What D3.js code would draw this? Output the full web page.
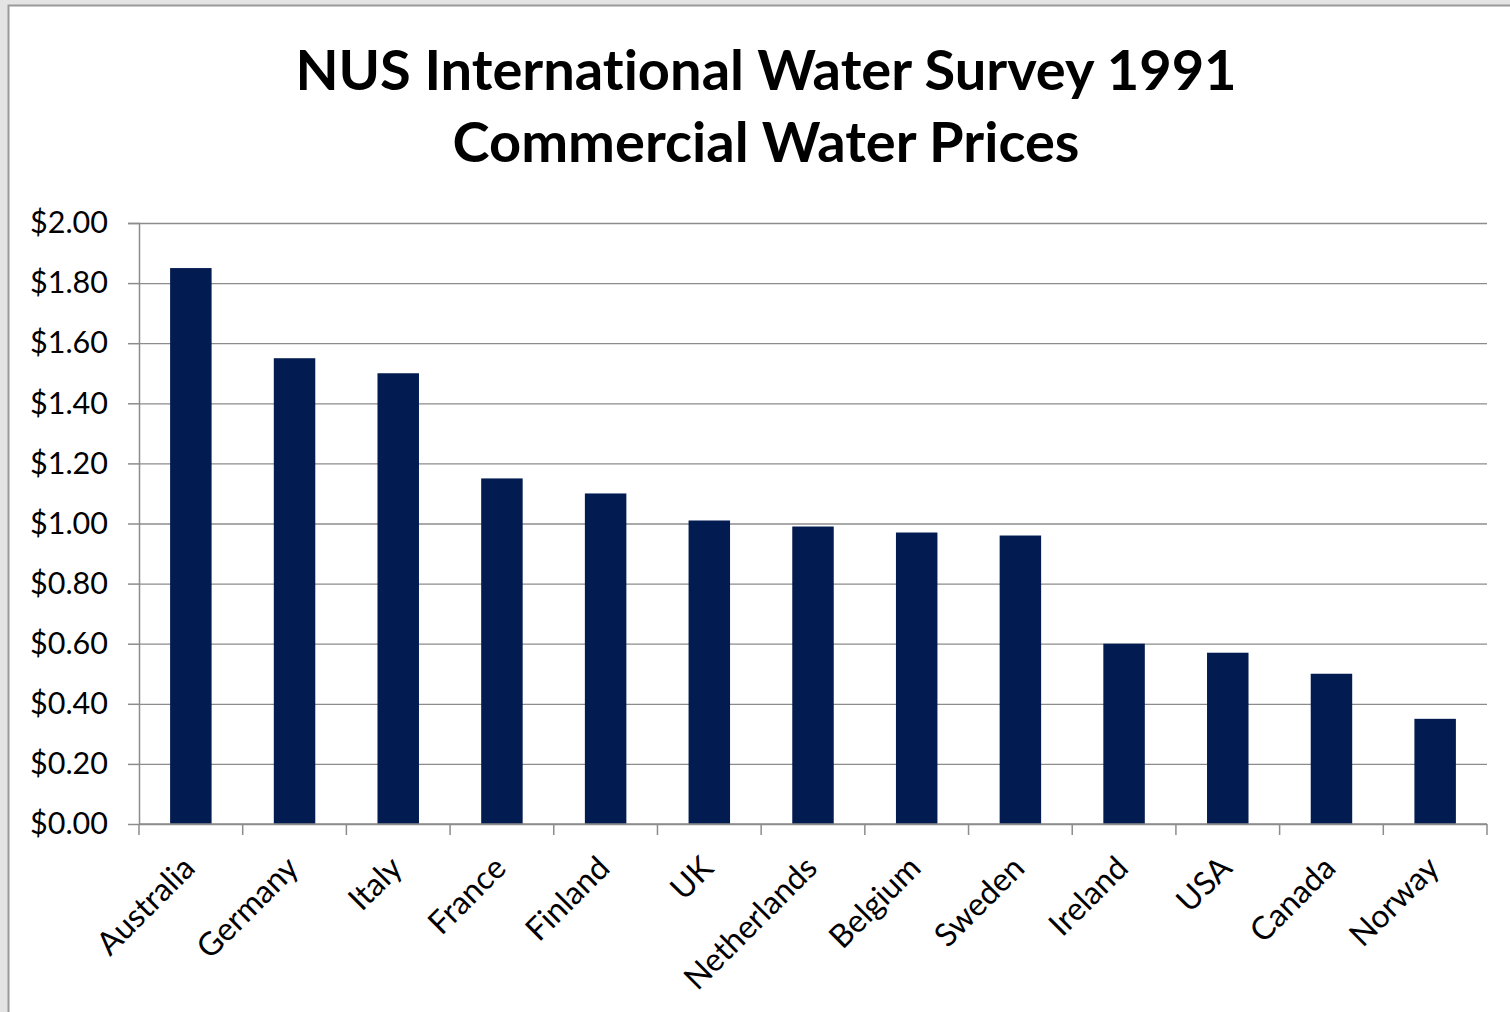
<!DOCTYPE html>
<html>
<head>
<meta charset="utf-8">
<script src="https://cdn.jsdelivr.net/npm/d3@7"></script>
<style>
  body { margin: 0; background: #e4e4e4; }
  svg { display: block; }
  text { font-variant-ligatures: none; }
  .grid line { stroke: #8c8c8c; stroke-width: 1.3; }
  .grid .domain { display: none; }
</style>
</head>
<body>
<svg id="chart" width="1510" height="1012" viewBox="0 0 1510 1012"></svg>
<script>
const countries = ["Australia", "Germany", "Italy", "France", "Finland", "UK", "Netherlands",
                   "Belgium", "Sweden", "Ireland", "USA", "Canada", "Norway"];
const prices = [1.85, 1.55, 1.50, 1.15, 1.10, 1.01, 0.99, 0.97, 0.96, 0.60, 0.57, 0.50, 0.35];
const yTicks = [0, 0.2, 0.4, 0.6, 0.8, 1.0, 1.2, 1.4, 1.6, 1.8, 2.0];
const titleLines = ["NUS International Water Survey 1991", "Commercial Water Prices"];

function makeBars(id){
    let svg = d3.select("#" + id);
    let margins = {top: 223, right: 23, bottom: 188, left: 139};
    let innerWidth = 1510 - margins.left - margins.right;
    let innerHeight = 1012 - margins.top - margins.bottom;
    const font = "Lato, 'Open Sans', sans-serif";

    // chart frame
    svg.append("rect")
        .attr("x", 8.5).attr("y", 5.5)
        .attr("width", 1520).attr("height", 1020)
        .attr("fill", "white")
        .attr("stroke", "#9a9a9a").attr("stroke-width", 2);

    svg.selectAll(".title")
        .data(titleLines)
        .enter().append("text")
        .attr("class", "title")
        .attr("x", 766)
        .attr("y", (d, i) => 90 + i * 72)
        .attr("text-anchor", "middle")
        .style("font-family", font)
        .style("font-weight", "bold")
        .style("font-size", "56px")
        .style("fill", "#000")
        .text(d => d);

    let x = d3.scaleBand(countries, [0, innerWidth])
        .paddingInner(0.6)
        .paddingOuter(0.3);
    let y = d3.scaleLinear([0, 2], [innerHeight, 0]);

    let chart = svg.append("g")
        .attr("transform", `translate(${margins.left},${margins.top})`);

    // gridlines
    chart.append("g")
        .attr("class", "grid")
        .call(d3.axisLeft(y).tickValues(yTicks).tickFormat("").tickSize(-innerWidth));

    chart.selectAll(".bar")
        .data(prices)
        .enter().append("rect")
        .attr("class", "bar")
        .attr("x", (d, i) => x(countries[i]))
        .attr("y", d => y(d))
        .attr("width", x.bandwidth())
        .attr("height", d => innerHeight - y(d))
        .attr("fill", "#021b50");

    // y axis
    let yAxis = chart.append("g")
        .call(d3.axisLeft(y).tickValues(yTicks).tickSize(11).tickPadding(20)
            .tickFormat(d => "$" + d.toFixed(2)));
    yAxis.selectAll("line, path").attr("stroke", "#8c8c8c").attr("stroke-width", 1.5);
    yAxis.select(".domain").attr("d", `M-11,0.5H0.5V${innerHeight}`);
    yAxis.selectAll("text")
        .style("font-family", font)
        .style("font-size", "30.5px")
        .style("fill", "#000");

    // x axis: ticks between categories
    let step = x.step();
    let xAxis = chart.append("g")
        .attr("transform", `translate(0,${innerHeight})`);
    xAxis.append("line")
        .attr("x1", 0).attr("x2", innerWidth)
        .attr("stroke", "#8c8c8c").attr("stroke-width", 1.5);
    xAxis.selectAll(".xtick")
        .data(d3.range(countries.length + 1))
        .enter().append("line")
        .attr("class", "xtick")
        .attr("x1", i => i * step).attr("x2", i => i * step)
        .attr("y1", 0).attr("y2", 11)
        .attr("stroke", "#8c8c8c").attr("stroke-width", 1.5);
    xAxis.selectAll(".xlabel")
        .data(countries)
        .enter().append("text")
        .attr("class", "xlabel")
        .attr("transform", d => `translate(${x(d) + x.bandwidth() / 2 + 6},${46}) rotate(-45)`)
        .attr("text-anchor", "end")
        .style("font-family", font)
        .style("font-size", "32px")
        .style("fill", "#000")
        .text(d => d);
}

makeBars("chart");
</script>
</body>
</html>
